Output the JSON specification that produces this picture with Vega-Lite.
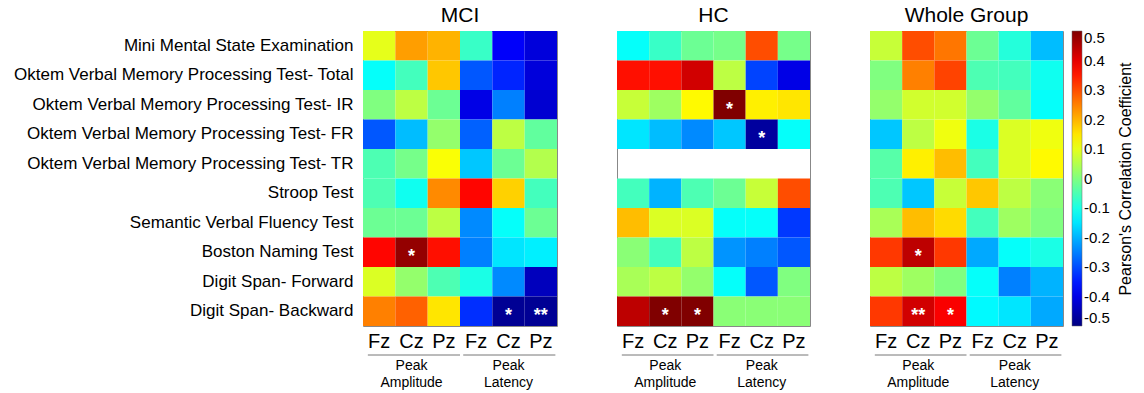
{
  "$schema": "https://vega.github.io/schema/vega-lite/v6.json",
  "padding": {"left": 12, "top": 4, "right": 5, "bottom": 0},
  "config": {
    "font": "Liberation Sans",
    "view": {"stroke": "#888888", "strokeWidth": 1}
  },
  "datasets": {
    "cells": [
      {"g":"MCI","t":"Mini Mental State Examination","c":"aFz","r":0.10},
      {"g":"MCI","t":"Mini Mental State Examination","c":"aCz","r":0.22},
      {"g":"MCI","t":"Mini Mental State Examination","c":"aPz","r":0.20},
      {"g":"MCI","t":"Mini Mental State Examination","c":"lFz","r":-0.07},
      {"g":"MCI","t":"Mini Mental State Examination","c":"lCz","r":-0.38},
      {"g":"MCI","t":"Mini Mental State Examination","c":"lPz","r":-0.41},
      {"g":"MCI","t":"Oktem Verbal Memory Processing Test- Total","c":"aFz","r":-0.12},
      {"g":"MCI","t":"Oktem Verbal Memory Processing Test- Total","c":"aCz","r":-0.06},
      {"g":"MCI","t":"Oktem Verbal Memory Processing Test- Total","c":"aPz","r":0.18},
      {"g":"MCI","t":"Oktem Verbal Memory Processing Test- Total","c":"lFz","r":-0.29},
      {"g":"MCI","t":"Oktem Verbal Memory Processing Test- Total","c":"lCz","r":-0.34},
      {"g":"MCI","t":"Oktem Verbal Memory Processing Test- Total","c":"lPz","r":-0.41},
      {"g":"MCI","t":"Oktem Verbal Memory Processing Test- IR","c":"aFz","r":0.00},
      {"g":"MCI","t":"Oktem Verbal Memory Processing Test- IR","c":"aCz","r":0.06},
      {"g":"MCI","t":"Oktem Verbal Memory Processing Test- IR","c":"aPz","r":-0.02},
      {"g":"MCI","t":"Oktem Verbal Memory Processing Test- IR","c":"lFz","r":-0.40},
      {"g":"MCI","t":"Oktem Verbal Memory Processing Test- IR","c":"lCz","r":-0.25},
      {"g":"MCI","t":"Oktem Verbal Memory Processing Test- IR","c":"lPz","r":-0.42},
      {"g":"MCI","t":"Oktem Verbal Memory Processing Test- FR","c":"aFz","r":-0.29},
      {"g":"MCI","t":"Oktem Verbal Memory Processing Test- FR","c":"aCz","r":-0.19},
      {"g":"MCI","t":"Oktem Verbal Memory Processing Test- FR","c":"aPz","r":0.02},
      {"g":"MCI","t":"Oktem Verbal Memory Processing Test- FR","c":"lFz","r":-0.28},
      {"g":"MCI","t":"Oktem Verbal Memory Processing Test- FR","c":"lCz","r":0.06},
      {"g":"MCI","t":"Oktem Verbal Memory Processing Test- FR","c":"lPz","r":-0.03},
      {"g":"MCI","t":"Oktem Verbal Memory Processing Test- TR","c":"aFz","r":-0.05},
      {"g":"MCI","t":"Oktem Verbal Memory Processing Test- TR","c":"aCz","r":-0.01},
      {"g":"MCI","t":"Oktem Verbal Memory Processing Test- TR","c":"aPz","r":0.12},
      {"g":"MCI","t":"Oktem Verbal Memory Processing Test- TR","c":"lFz","r":-0.18},
      {"g":"MCI","t":"Oktem Verbal Memory Processing Test- TR","c":"lCz","r":-0.02},
      {"g":"MCI","t":"Oktem Verbal Memory Processing Test- TR","c":"lPz","r":0.05},
      {"g":"MCI","t":"Stroop Test","c":"aFz","r":-0.05},
      {"g":"MCI","t":"Stroop Test","c":"aCz","r":-0.11},
      {"g":"MCI","t":"Stroop Test","c":"aPz","r":0.24},
      {"g":"MCI","t":"Stroop Test","c":"lFz","r":0.37},
      {"g":"MCI","t":"Stroop Test","c":"lCz","r":0.17},
      {"g":"MCI","t":"Stroop Test","c":"lPz","r":-0.06},
      {"g":"MCI","t":"Semantic Verbal Fluency Test","c":"aFz","r":-0.02},
      {"g":"MCI","t":"Semantic Verbal Fluency Test","c":"aCz","r":-0.02},
      {"g":"MCI","t":"Semantic Verbal Fluency Test","c":"aPz","r":0.06},
      {"g":"MCI","t":"Semantic Verbal Fluency Test","c":"lFz","r":-0.24},
      {"g":"MCI","t":"Semantic Verbal Fluency Test","c":"lCz","r":-0.12},
      {"g":"MCI","t":"Semantic Verbal Fluency Test","c":"lPz","r":-0.02},
      {"g":"MCI","t":"Boston Naming Test","c":"aFz","r":0.37},
      {"g":"MCI","t":"Boston Naming Test","c":"aCz","r":0.48},
      {"g":"MCI","t":"Boston Naming Test","c":"aPz","r":0.36},
      {"g":"MCI","t":"Boston Naming Test","c":"lFz","r":-0.25},
      {"g":"MCI","t":"Boston Naming Test","c":"lCz","r":-0.15},
      {"g":"MCI","t":"Boston Naming Test","c":"lPz","r":-0.14},
      {"g":"MCI","t":"Digit Span- Forward","c":"aFz","r":0.09},
      {"g":"MCI","t":"Digit Span- Forward","c":"aCz","r":0.02},
      {"g":"MCI","t":"Digit Span- Forward","c":"aPz","r":-0.05},
      {"g":"MCI","t":"Digit Span- Forward","c":"lFz","r":-0.10},
      {"g":"MCI","t":"Digit Span- Forward","c":"lCz","r":-0.24},
      {"g":"MCI","t":"Digit Span- Forward","c":"lPz","r":-0.44},
      {"g":"MCI","t":"Digit Span- Backward","c":"aFz","r":0.25},
      {"g":"MCI","t":"Digit Span- Backward","c":"aCz","r":0.28},
      {"g":"MCI","t":"Digit Span- Backward","c":"aPz","r":0.15},
      {"g":"MCI","t":"Digit Span- Backward","c":"lFz","r":-0.33},
      {"g":"MCI","t":"Digit Span- Backward","c":"lCz","r":-0.48},
      {"g":"MCI","t":"Digit Span- Backward","c":"lPz","r":-0.48},

      {"g":"HC","t":"Mini Mental State Examination","c":"aFz","r":-0.12},
      {"g":"HC","t":"Mini Mental State Examination","c":"aCz","r":-0.07},
      {"g":"HC","t":"Mini Mental State Examination","c":"aPz","r":-0.02},
      {"g":"HC","t":"Mini Mental State Examination","c":"lFz","r":-0.01},
      {"g":"HC","t":"Mini Mental State Examination","c":"lCz","r":0.30},
      {"g":"HC","t":"Mini Mental State Examination","c":"lPz","r":-0.01},
      {"g":"HC","t":"Oktem Verbal Memory Processing Test- Total","c":"aFz","r":0.36},
      {"g":"HC","t":"Oktem Verbal Memory Processing Test- Total","c":"aCz","r":0.36},
      {"g":"HC","t":"Oktem Verbal Memory Processing Test- Total","c":"aPz","r":0.42},
      {"g":"HC","t":"Oktem Verbal Memory Processing Test- Total","c":"lFz","r":0.06},
      {"g":"HC","t":"Oktem Verbal Memory Processing Test- Total","c":"lCz","r":-0.31},
      {"g":"HC","t":"Oktem Verbal Memory Processing Test- Total","c":"lPz","r":-0.40},
      {"g":"HC","t":"Oktem Verbal Memory Processing Test- IR","c":"aFz","r":0.07},
      {"g":"HC","t":"Oktem Verbal Memory Processing Test- IR","c":"aCz","r":0.03},
      {"g":"HC","t":"Oktem Verbal Memory Processing Test- IR","c":"aPz","r":0.13},
      {"g":"HC","t":"Oktem Verbal Memory Processing Test- IR","c":"lFz","r":0.50},
      {"g":"HC","t":"Oktem Verbal Memory Processing Test- IR","c":"lCz","r":0.14},
      {"g":"HC","t":"Oktem Verbal Memory Processing Test- IR","c":"lPz","r":0.15},
      {"g":"HC","t":"Oktem Verbal Memory Processing Test- FR","c":"aFz","r":-0.15},
      {"g":"HC","t":"Oktem Verbal Memory Processing Test- FR","c":"aCz","r":-0.19},
      {"g":"HC","t":"Oktem Verbal Memory Processing Test- FR","c":"aPz","r":-0.24},
      {"g":"HC","t":"Oktem Verbal Memory Processing Test- FR","c":"lFz","r":-0.18},
      {"g":"HC","t":"Oktem Verbal Memory Processing Test- FR","c":"lCz","r":-0.47},
      {"g":"HC","t":"Oktem Verbal Memory Processing Test- FR","c":"lPz","r":-0.12},
      {"g":"HC","t":"Stroop Test","c":"aFz","r":-0.06},
      {"g":"HC","t":"Stroop Test","c":"aCz","r":-0.20},
      {"g":"HC","t":"Stroop Test","c":"aPz","r":-0.05},
      {"g":"HC","t":"Stroop Test","c":"lFz","r":-0.02},
      {"g":"HC","t":"Stroop Test","c":"lCz","r":0.07},
      {"g":"HC","t":"Stroop Test","c":"lPz","r":0.30},
      {"g":"HC","t":"Semantic Verbal Fluency Test","c":"aFz","r":0.19},
      {"g":"HC","t":"Semantic Verbal Fluency Test","c":"aCz","r":0.09},
      {"g":"HC","t":"Semantic Verbal Fluency Test","c":"aPz","r":0.09},
      {"g":"HC","t":"Semantic Verbal Fluency Test","c":"lFz","r":-0.12},
      {"g":"HC","t":"Semantic Verbal Fluency Test","c":"lCz","r":-0.12},
      {"g":"HC","t":"Semantic Verbal Fluency Test","c":"lPz","r":-0.32},
      {"g":"HC","t":"Boston Naming Test","c":"aFz","r":0.01},
      {"g":"HC","t":"Boston Naming Test","c":"aCz","r":-0.06},
      {"g":"HC","t":"Boston Naming Test","c":"aPz","r":0.06},
      {"g":"HC","t":"Boston Naming Test","c":"lFz","r":-0.23},
      {"g":"HC","t":"Boston Naming Test","c":"lCz","r":-0.25},
      {"g":"HC","t":"Boston Naming Test","c":"lPz","r":-0.29},
      {"g":"HC","t":"Digit Span- Forward","c":"aFz","r":0.04},
      {"g":"HC","t":"Digit Span- Forward","c":"aCz","r":0.06},
      {"g":"HC","t":"Digit Span- Forward","c":"aPz","r":0.02},
      {"g":"HC","t":"Digit Span- Forward","c":"lFz","r":-0.12},
      {"g":"HC","t":"Digit Span- Forward","c":"lCz","r":-0.29},
      {"g":"HC","t":"Digit Span- Forward","c":"lPz","r":0.00},
      {"g":"HC","t":"Digit Span- Backward","c":"aFz","r":0.44},
      {"g":"HC","t":"Digit Span- Backward","c":"aCz","r":0.50},
      {"g":"HC","t":"Digit Span- Backward","c":"aPz","r":0.50},
      {"g":"HC","t":"Digit Span- Backward","c":"lFz","r":0.01},
      {"g":"HC","t":"Digit Span- Backward","c":"lCz","r":0.01},
      {"g":"HC","t":"Digit Span- Backward","c":"lPz","r":0.01},

      {"g":"WG","t":"Mini Mental State Examination","c":"aFz","r":0.07},
      {"g":"WG","t":"Mini Mental State Examination","c":"aCz","r":0.30},
      {"g":"WG","t":"Mini Mental State Examination","c":"aPz","r":0.26},
      {"g":"WG","t":"Mini Mental State Examination","c":"lFz","r":-0.02},
      {"g":"WG","t":"Mini Mental State Examination","c":"lCz","r":-0.09},
      {"g":"WG","t":"Mini Mental State Examination","c":"lPz","r":-0.19},
      {"g":"WG","t":"Oktem Verbal Memory Processing Test- Total","c":"aFz","r":0.00},
      {"g":"WG","t":"Oktem Verbal Memory Processing Test- Total","c":"aCz","r":0.25},
      {"g":"WG","t":"Oktem Verbal Memory Processing Test- Total","c":"aPz","r":0.31},
      {"g":"WG","t":"Oktem Verbal Memory Processing Test- Total","c":"lFz","r":-0.05},
      {"g":"WG","t":"Oktem Verbal Memory Processing Test- Total","c":"lCz","r":-0.06},
      {"g":"WG","t":"Oktem Verbal Memory Processing Test- Total","c":"lPz","r":-0.11},
      {"g":"WG","t":"Oktem Verbal Memory Processing Test- IR","c":"aFz","r":0.02},
      {"g":"WG","t":"Oktem Verbal Memory Processing Test- IR","c":"aCz","r":0.08},
      {"g":"WG","t":"Oktem Verbal Memory Processing Test- IR","c":"aPz","r":0.08},
      {"g":"WG","t":"Oktem Verbal Memory Processing Test- IR","c":"lFz","r":0.02},
      {"g":"WG","t":"Oktem Verbal Memory Processing Test- IR","c":"lCz","r":-0.03},
      {"g":"WG","t":"Oktem Verbal Memory Processing Test- IR","c":"lPz","r":-0.12},
      {"g":"WG","t":"Oktem Verbal Memory Processing Test- FR","c":"aFz","r":-0.18},
      {"g":"WG","t":"Oktem Verbal Memory Processing Test- FR","c":"aCz","r":0.06},
      {"g":"WG","t":"Oktem Verbal Memory Processing Test- FR","c":"aPz","r":0.11},
      {"g":"WG","t":"Oktem Verbal Memory Processing Test- FR","c":"lFz","r":-0.10},
      {"g":"WG","t":"Oktem Verbal Memory Processing Test- FR","c":"lCz","r":0.09},
      {"g":"WG","t":"Oktem Verbal Memory Processing Test- FR","c":"lPz","r":0.11},
      {"g":"WG","t":"Oktem Verbal Memory Processing Test- TR","c":"aFz","r":-0.04},
      {"g":"WG","t":"Oktem Verbal Memory Processing Test- TR","c":"aCz","r":0.14},
      {"g":"WG","t":"Oktem Verbal Memory Processing Test- TR","c":"aPz","r":0.19},
      {"g":"WG","t":"Oktem Verbal Memory Processing Test- TR","c":"lFz","r":-0.06},
      {"g":"WG","t":"Oktem Verbal Memory Processing Test- TR","c":"lCz","r":0.09},
      {"g":"WG","t":"Oktem Verbal Memory Processing Test- TR","c":"lPz","r":0.13},
      {"g":"WG","t":"Stroop Test","c":"aFz","r":-0.05},
      {"g":"WG","t":"Stroop Test","c":"aCz","r":-0.18},
      {"g":"WG","t":"Stroop Test","c":"aPz","r":0.07},
      {"g":"WG","t":"Stroop Test","c":"lFz","r":0.18},
      {"g":"WG","t":"Stroop Test","c":"lCz","r":0.06},
      {"g":"WG","t":"Stroop Test","c":"lPz","r":0.01},
      {"g":"WG","t":"Semantic Verbal Fluency Test","c":"aFz","r":0.04},
      {"g":"WG","t":"Semantic Verbal Fluency Test","c":"aCz","r":0.19},
      {"g":"WG","t":"Semantic Verbal Fluency Test","c":"aPz","r":0.16},
      {"g":"WG","t":"Semantic Verbal Fluency Test","c":"lFz","r":-0.06},
      {"g":"WG","t":"Semantic Verbal Fluency Test","c":"lCz","r":0.03},
      {"g":"WG","t":"Semantic Verbal Fluency Test","c":"lPz","r":0.00},
      {"g":"WG","t":"Boston Naming Test","c":"aFz","r":0.32},
      {"g":"WG","t":"Boston Naming Test","c":"aCz","r":0.44},
      {"g":"WG","t":"Boston Naming Test","c":"aPz","r":0.32},
      {"g":"WG","t":"Boston Naming Test","c":"lFz","r":-0.21},
      {"g":"WG","t":"Boston Naming Test","c":"lCz","r":-0.12},
      {"g":"WG","t":"Boston Naming Test","c":"lPz","r":-0.10},
      {"g":"WG","t":"Digit Span- Forward","c":"aFz","r":0.06},
      {"g":"WG","t":"Digit Span- Forward","c":"aCz","r":0.03},
      {"g":"WG","t":"Digit Span- Forward","c":"aPz","r":0.00},
      {"g":"WG","t":"Digit Span- Forward","c":"lFz","r":-0.12},
      {"g":"WG","t":"Digit Span- Forward","c":"lCz","r":-0.25},
      {"g":"WG","t":"Digit Span- Forward","c":"lPz","r":-0.20},
      {"g":"WG","t":"Digit Span- Backward","c":"aFz","r":0.32},
      {"g":"WG","t":"Digit Span- Backward","c":"aCz","r":0.42},
      {"g":"WG","t":"Digit Span- Backward","c":"aPz","r":0.38},
      {"g":"WG","t":"Digit Span- Backward","c":"lFz","r":-0.13},
      {"g":"WG","t":"Digit Span- Backward","c":"lCz","r":-0.15},
      {"g":"WG","t":"Digit Span- Backward","c":"lPz","r":-0.21}
    ],
    "sig": [
      {"g":"MCI","t":"Boston Naming Test","c":"aCz","s":"*"},
      {"g":"MCI","t":"Digit Span- Backward","c":"lCz","s":"*"},
      {"g":"MCI","t":"Digit Span- Backward","c":"lPz","s":"**"},
      {"g":"HC","t":"Oktem Verbal Memory Processing Test- IR","c":"lFz","s":"*"},
      {"g":"HC","t":"Oktem Verbal Memory Processing Test- FR","c":"lCz","s":"*"},
      {"g":"HC","t":"Digit Span- Backward","c":"aCz","s":"*"},
      {"g":"HC","t":"Digit Span- Backward","c":"aPz","s":"*"},
      {"g":"WG","t":"Boston Naming Test","c":"aCz","s":"*"},
      {"g":"WG","t":"Digit Span- Backward","c":"aCz","s":"**"},
      {"g":"WG","t":"Digit Span- Backward","c":"aPz","s":"*"}
    ],
    "groups": [
      {"kind":"rule","x0":0.15,"x1":3.0,"lvl":0,"label":""},
      {"kind":"rule","x0":3.1,"x1":5.95,"lvl":0,"label":""},
      {"kind":"text","x0":1.5,"x1":1.5,"lvl":0.7,"label":"Peak"},
      {"kind":"text","x0":1.5,"x1":1.5,"lvl":1.75,"label":"Amplitude"},
      {"kind":"text","x0":4.5,"x1":4.5,"lvl":0.7,"label":"Peak"},
      {"kind":"text","x0":4.5,"x1":4.5,"lvl":1.75,"label":"Latency"}
    ]
  },
  "spacing": 58,
  "resolve": {"scale": {"color": "shared"}, "legend": {"color": "shared"}},
  "hconcat": [
    {
      "spacing": 2,
      "resolve": {"scale": {"x": "independent", "y": "independent"}},
      "vconcat": [
        {
          "width": 194, "height": 295,
          "title": {"text": "MCI", "frame": "group", "anchor": "middle", "fontSize": 21, "fontWeight": "normal", "offset": 5},
          "encoding": {
            "x": {"field": "c", "type": "ordinal", "scale": {"domain": ["aFz","aCz","aPz","lFz","lCz","lPz"], "paddingInner": 0, "paddingOuter": 0},
                  "axis": {"title": null, "labelExpr": "substring(datum.value,1)", "labelAngle": 0, "labelFontSize": 20, "labelColor": "#000", "ticks": false, "domain": false, "labelPadding": 5}},
            "y": {"field": "t", "type": "nominal", "scale": {"domain": ["Mini Mental State Examination","Oktem Verbal Memory Processing Test- Total","Oktem Verbal Memory Processing Test- IR","Oktem Verbal Memory Processing Test- FR","Oktem Verbal Memory Processing Test- TR","Stroop Test","Semantic Verbal Fluency Test","Boston Naming Test","Digit Span- Forward","Digit Span- Backward"], "paddingInner": 0, "paddingOuter": 0},
                  "axis": {"title": null, "labelFontSize": 17, "labelColor": "#000", "ticks": false, "domain": false, "labelPadding": 10, "labelLimit": 500}}
          },
          "layer": [
            {
              "data": {"name": "cells"},
              "transform": [{"filter": "datum.g == 'MCI'"}],
              "mark": {"type": "rect"},
              "encoding": {
                "color": {"field": "r", "type": "quantitative",
                  "scale": {"domain": [-0.5,-0.375,-0.25,-0.125,0,0.125,0.25,0.375,0.5], "range": ["#000080","#0000ff","#0080ff","#00ffff","#80ff80","#ffff00","#ff8000","#ff0000","#800000"], "interpolate": "rgb"},
                  "legend": {"title": "Pearson's Correlation Coefficient", "orient": "right", "direction": "vertical", "gradientLength": 295, "gradientThickness": 10, "values": [-0.5,-0.4,-0.3,-0.2,-0.1,0,0.1,0.2,0.3,0.4,0.5], "labelExpr": "replace(format(datum.value, '.1~f'), '\u2212', '-')", "labelFontSize": 15, "labelColor": "#000", "labelOverlap": false, "titleFontSize": 16, "titleFontWeight": "normal", "titleColor": "#000", "titleOrient": "right", "titleLimit": 500, "titleAnchor": "middle", "titlePadding": 8, "offset": 8, "gradientStrokeColor": "#666", "gradientStrokeWidth": 0.5,
                    "encode": {"title": {"update": {"angle": {"value": 270}, "baseline": {"value": "top"}}}}}}
              }
            },
            {
              "data": {"name": "sig"},
              "transform": [{"filter": "datum.g == 'MCI'"}],
              "mark": {"type": "text", "color": "white", "fontSize": 18, "fontWeight": "bold", "dy": 5},
              "encoding": {"text": {"field": "s"}}
            }
          ]
        },
        {
          "width": 194, "height": 40,
          "view": {"stroke": null},
          "data": {"name": "groups"},
          "encoding": {
            "x": {"field": "x0", "type": "quantitative", "scale": {"domain": [0, 6], "nice": false, "zero": false}, "axis": null},
            "y": {"field": "lvl", "type": "quantitative", "scale": {"domain": [0, 2.5], "reverse": true, "nice": false}, "axis": null}
          },
          "layer": [
            {"transform": [{"filter": "datum.kind == 'rule'"}], "mark": {"type": "rule", "color": "#777", "strokeWidth": 1}, "encoding": {"x2": {"field": "x1"}}},
            {"transform": [{"filter": "datum.kind == 'text'"}], "mark": {"type": "text", "fontSize": 14, "color": "#000"}, "encoding": {"text": {"field": "label"}}}
          ]
        }
      ]
    },
    {
      "spacing": 2,
      "resolve": {"scale": {"x": "independent", "y": "independent"}},
      "vconcat": [
        {
          "width": 193, "height": 295,
          "title": {"text": "HC", "frame": "group", "anchor": "middle", "fontSize": 21, "fontWeight": "normal", "offset": 5},
          "encoding": {
            "x": {"field": "c", "type": "ordinal", "scale": {"domain": ["aFz","aCz","aPz","lFz","lCz","lPz"], "paddingInner": 0, "paddingOuter": 0},
                  "axis": {"title": null, "labelExpr": "substring(datum.value,1)", "labelAngle": 0, "labelFontSize": 20, "labelColor": "#000", "ticks": false, "domain": false, "labelPadding": 5}},
            "y": {"field": "t", "type": "nominal", "scale": {"domain": ["Mini Mental State Examination","Oktem Verbal Memory Processing Test- Total","Oktem Verbal Memory Processing Test- IR","Oktem Verbal Memory Processing Test- FR","Oktem Verbal Memory Processing Test- TR","Stroop Test","Semantic Verbal Fluency Test","Boston Naming Test","Digit Span- Forward","Digit Span- Backward"], "paddingInner": 0, "paddingOuter": 0}, "axis": null}
          },
          "layer": [
            {
              "data": {"name": "cells"},
              "transform": [{"filter": "datum.g == 'HC'"}],
              "mark": {"type": "rect"},
              "encoding": {
                "color": {"field": "r", "type": "quantitative"}
              }
            },
            {
              "data": {"name": "sig"},
              "transform": [{"filter": "datum.g == 'HC'"}],
              "mark": {"type": "text", "color": "white", "fontSize": 18, "fontWeight": "bold", "dy": 5},
              "encoding": {"text": {"field": "s"}}
            }
          ]
        },
        {
          "width": 193, "height": 40,
          "view": {"stroke": null},
          "data": {"name": "groups"},
          "encoding": {
            "x": {"field": "x0", "type": "quantitative", "scale": {"domain": [0, 6], "nice": false, "zero": false}, "axis": null},
            "y": {"field": "lvl", "type": "quantitative", "scale": {"domain": [0, 2.5], "reverse": true, "nice": false}, "axis": null}
          },
          "layer": [
            {"transform": [{"filter": "datum.kind == 'rule'"}], "mark": {"type": "rule", "color": "#777", "strokeWidth": 1}, "encoding": {"x2": {"field": "x1"}}},
            {"transform": [{"filter": "datum.kind == 'text'"}], "mark": {"type": "text", "fontSize": 14, "color": "#000"}, "encoding": {"text": {"field": "label"}}}
          ]
        }
      ]
    },
    {
      "spacing": 2,
      "resolve": {"scale": {"x": "independent", "y": "independent"}},
      "vconcat": [
        {
          "width": 193, "height": 295,
          "title": {"text": "Whole Group", "frame": "group", "anchor": "middle", "fontSize": 21, "fontWeight": "normal", "offset": 5},
          "encoding": {
            "x": {"field": "c", "type": "ordinal", "scale": {"domain": ["aFz","aCz","aPz","lFz","lCz","lPz"], "paddingInner": 0, "paddingOuter": 0},
                  "axis": {"title": null, "labelExpr": "substring(datum.value,1)", "labelAngle": 0, "labelFontSize": 20, "labelColor": "#000", "ticks": false, "domain": false, "labelPadding": 5}},
            "y": {"field": "t", "type": "nominal", "scale": {"domain": ["Mini Mental State Examination","Oktem Verbal Memory Processing Test- Total","Oktem Verbal Memory Processing Test- IR","Oktem Verbal Memory Processing Test- FR","Oktem Verbal Memory Processing Test- TR","Stroop Test","Semantic Verbal Fluency Test","Boston Naming Test","Digit Span- Forward","Digit Span- Backward"], "paddingInner": 0, "paddingOuter": 0}, "axis": null}
          },
          "layer": [
            {
              "data": {"name": "cells"},
              "transform": [{"filter": "datum.g == 'WG'"}],
              "mark": {"type": "rect"},
              "encoding": {
                "color": {"field": "r", "type": "quantitative"}
              }
            },
            {
              "data": {"name": "sig"},
              "transform": [{"filter": "datum.g == 'WG'"}],
              "mark": {"type": "text", "color": "white", "fontSize": 18, "fontWeight": "bold", "dy": 5},
              "encoding": {"text": {"field": "s"}}
            }
          ]
        },
        {
          "width": 193, "height": 40,
          "view": {"stroke": null},
          "data": {"name": "groups"},
          "encoding": {
            "x": {"field": "x0", "type": "quantitative", "scale": {"domain": [0, 6], "nice": false, "zero": false}, "axis": null},
            "y": {"field": "lvl", "type": "quantitative", "scale": {"domain": [0, 2.5], "reverse": true, "nice": false}, "axis": null}
          },
          "layer": [
            {"transform": [{"filter": "datum.kind == 'rule'"}], "mark": {"type": "rule", "color": "#777", "strokeWidth": 1}, "encoding": {"x2": {"field": "x1"}}},
            {"transform": [{"filter": "datum.kind == 'text'"}], "mark": {"type": "text", "fontSize": 14, "color": "#000"}, "encoding": {"text": {"field": "label"}}}
          ]
        }
      ]
    }
  ]
}
